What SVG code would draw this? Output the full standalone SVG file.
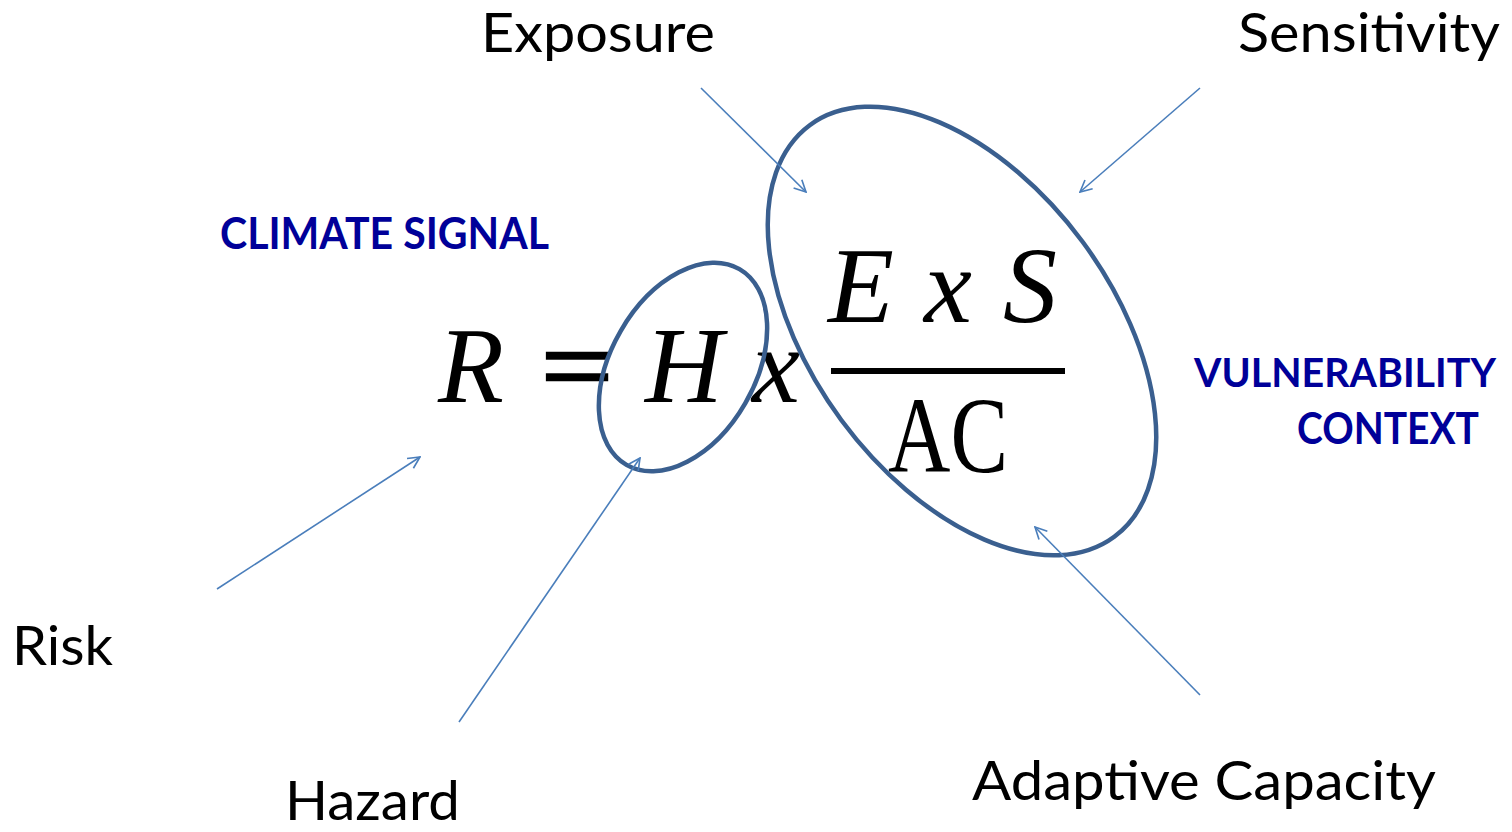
<svg xmlns="http://www.w3.org/2000/svg" width="1512" height="832" viewBox="0 0 1512 832">
<style>
.lbl{font-family:Lato,"Open Sans","Noto Sans",sans-serif;font-size:55px;fill:#000}
.ctx{font-family:Lato,"Open Sans","Noto Sans",sans-serif;font-weight:bold;font-size:43px;fill:#000099}
.math{font-family:"Liberation Serif","DejaVu Serif",serif;font-style:italic;font-size:108px;fill:#000}
.up{font-family:"Liberation Serif","DejaVu Serif",serif;font-size:108px;fill:#000}
.ell{fill:none;stroke:#3A5F8F;stroke-width:4.5}
.arr{stroke:#4A7EBB;stroke-width:1.6;fill:none;marker-end:url(#ah)}
</style>
<defs>
<marker id="ah" viewBox="0 0 12 12" refX="11" refY="6" markerWidth="14" markerHeight="14" markerUnits="userSpaceOnUse" orient="auto">
<path d="M1,1 L11,6 L1,11" fill="none" stroke="#4A7EBB" stroke-width="1.4"/>
</marker>
</defs>
<rect width="1512" height="832" fill="#fff"/>
<g id="equation">
<text class="math" x="438" y="402">R</text>
<text class="up" x="541" y="402" textLength="72" lengthAdjust="spacingAndGlyphs" stroke="#000" stroke-width="2.5">=</text>
<text class="math" x="645" y="402">H</text>
<text class="math" x="752" y="402">x</text>
<text class="math" x="828" y="322">E</text>
<text class="math" x="924" y="322">x</text>
<text class="math" x="1003" y="322">S</text>
<rect x="831" y="368" width="234" height="6" fill="#000"/>
<text class="up" x="888" y="472" textLength="120" lengthAdjust="spacingAndGlyphs">AC</text>
</g>
<g id="hazard-ellipse"><ellipse class="ell" cx="0" cy="0" rx="72" ry="113" transform="translate(683,367) rotate(30)"/></g>
<g id="vulnerability-ellipse"><ellipse class="ell" cx="0" cy="0" rx="150" ry="256" transform="translate(962,331) rotate(-36.5)"/></g>
<g id="exposure"><text class="lbl" x="481" y="52" textLength="234" lengthAdjust="spacingAndGlyphs">Exposure</text></g>
<g id="sensitivity"><text class="lbl" x="1238" y="52" textLength="262" lengthAdjust="spacingAndGlyphs">Sensitivity</text></g>
<g id="risk"><text class="lbl" x="12" y="665" textLength="101" lengthAdjust="spacingAndGlyphs">Risk</text></g>
<g id="hazard"><text class="lbl" x="285" y="820" textLength="175" lengthAdjust="spacingAndGlyphs">Hazard</text></g>
<g id="adaptive-capacity"><text class="lbl" x="972" y="800" textLength="464" lengthAdjust="spacingAndGlyphs">Adaptive Capacity</text></g>
<g id="climate-signal"><text class="ctx" x="220" y="249" textLength="329" lengthAdjust="spacingAndGlyphs">CLIMATE SIGNAL</text></g>
<g id="vulnerability-context">
<text class="ctx" x="1194" y="387" style="font-size:40px" textLength="302" lengthAdjust="spacingAndGlyphs">VULNERABILITY</text>
<text class="ctx" x="1297" y="444" textLength="182" lengthAdjust="spacingAndGlyphs">CONTEXT</text>
</g>
<g id="connectors">
<line class="arr" x1="701" y1="88" x2="806" y2="192"/>
<line class="arr" x1="1200" y1="88" x2="1080" y2="192"/>
<line class="arr" x1="217" y1="589" x2="420" y2="457"/>
<line class="arr" x1="459" y1="722" x2="640" y2="458"/>
<line class="arr" x1="1200" y1="695" x2="1035" y2="527"/>
</g>
</svg>
